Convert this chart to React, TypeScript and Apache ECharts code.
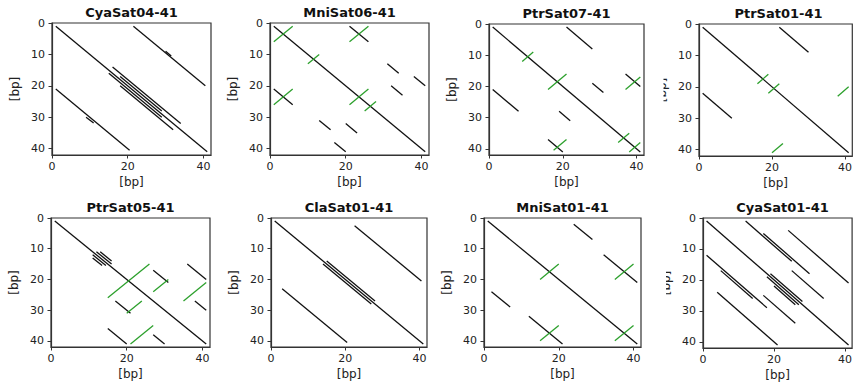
import React, { useEffect, useRef } from "react";
import * as echarts from "echarts";

// ---------- data ----------
const panelTitles = [
  "CyaSat04-41",
  "MniSat06-41",
  "PtrSat07-41",
  "PtrSat01-41",
  "PtrSat05-41",
  "ClaSat01-41",
  "MniSat01-41",
  "CyaSat01-41",
];
const xTicks = [0, 20, 40];
const yTicks = [0, 10, 20, 30, 40];
const axisTitle = "[bp]";
const axisMax = 42;

// segments: [x1, y1, x2, y2] in bp
const cyaSat04Direct = [
  [1, 1, 41, 41],
  [21.5, 1, 40.5, 20],
  [30, 9, 31.5, 10.5],
  [1, 21, 20.5, 40.5],
  [9, 30, 11, 31.8],
  [16, 14, 34, 32],
  [18, 17, 29, 28],
  [15, 16, 29, 30],
  [18, 20, 32, 34],
];
const cyaSat04Inverted: number[][] = [];

const mniSat06Direct = [
  [1, 1, 41, 41],
  [21, 1, 26, 6],
  [1, 21, 6, 26],
  [31, 13, 34, 16],
  [38, 17, 41, 20],
  [32, 20, 35, 23],
  [13, 31, 16, 34],
  [20, 32, 23, 35],
  [17, 38, 20, 41],
];
const mniSat06Inverted = [
  [1, 6, 6, 1],
  [21, 6, 26, 1],
  [10, 13, 13, 10],
  [1, 26, 6, 21],
  [21, 26, 26, 21],
  [25, 28, 28, 25],
];

const ptrSat07Direct = [
  [1, 1, 41, 41],
  [21, 1, 28, 8],
  [1, 21, 8, 28],
  [28, 19, 31, 22],
  [37, 16, 41, 20],
  [19, 28, 22, 31],
  [16, 37, 20, 41],
];
const ptrSat07Inverted = [
  [9, 12, 12, 9],
  [16, 21, 21, 16],
  [37, 21, 41, 17],
  [35, 38, 38, 35],
  [17.5, 40.5, 21, 37],
  [38, 41, 41, 38],
];

const ptrSat01Direct = [
  [1, 1, 41, 41],
  [22, 1, 30, 9],
  [1, 22, 9, 30],
];
const ptrSat01Inverted = [
  [16, 19, 19, 16],
  [19, 22, 22, 19],
  [38, 23, 41, 20],
  [20, 41, 23, 38],
];

const ptrSat05Direct = [
  [1, 1, 41, 41],
  [11, 12, 14.5, 15.5],
  [12, 11, 16, 15],
  [11, 13, 13.5, 15.5],
  [13, 11, 16, 14],
  [27, 17, 31, 21],
  [36, 15, 41, 20],
  [17, 27, 21, 31],
  [38, 27, 41, 30],
  [15, 36, 20, 41],
  [27, 38, 30, 41],
];
const ptrSat05Inverted = [
  [15, 26, 26, 15],
  [27, 24, 31, 20],
  [35, 27, 41, 21],
  [20, 31, 24, 27],
  [21, 41, 27, 35],
];

const claSat01Direct = [
  [1, 1, 41, 41],
  [22.5, 2.5, 40.5, 20.5],
  [3, 23, 20.5, 40.5],
  [15, 14, 28, 27],
  [14, 15, 27, 28],
];
const claSat01Inverted: number[][] = [];

const mniSat01Direct = [
  [1, 1, 41, 41],
  [24, 2, 29, 7],
  [32, 12, 41, 21],
  [2, 24, 7, 29],
  [12, 32, 21, 41],
];
const mniSat01Inverted = [
  [15, 20, 20, 15],
  [35, 20, 40, 15],
  [15, 40, 20, 35],
  [35, 40, 40, 35],
];

const cyaSat01Direct = [
  [1, 1, 41, 41],
  [12, 1, 25, 14],
  [17, 5, 30, 18],
  [24, 4, 41, 21],
  [25, 17, 34, 26],
  [1, 12, 18, 29],
  [5, 17, 14, 26],
  [4, 24, 21, 41],
  [17, 25, 26, 34],
  [19, 18, 28, 27],
  [18, 19, 27, 28],
  [20, 22, 26, 28],
];
const cyaSat01Inverted: number[][] = [];

const directRepeats = [
  cyaSat04Direct,
  mniSat06Direct,
  ptrSat07Direct,
  ptrSat01Direct,
  ptrSat05Direct,
  claSat01Direct,
  mniSat01Direct,
  cyaSat01Direct,
];
const invertedRepeats = [
  cyaSat04Inverted,
  mniSat06Inverted,
  ptrSat07Inverted,
  ptrSat01Inverted,
  ptrSat05Inverted,
  claSat01Inverted,
  mniSat01Inverted,
  cyaSat01Inverted,
];

// ---------- layout ----------
const boxes = [
  { left: 52, top: 23, width: 159, height: 132 },
  { left: 270, top: 23, width: 159, height: 132 },
  { left: 489, top: 24, width: 155, height: 131 },
  { left: 699, top: 24, width: 159, height: 132 },
  { left: 51, top: 218, width: 159, height: 129 },
  { left: 271, top: 218, width: 156, height: 129 },
  { left: 484, top: 218, width: 157, height: 129 },
  { left: 703, top: 218, width: 159, height: 130 },
];

const FONT = "DejaVu Sans";
const SPINE = "#333333";
const TEXT = "#222222";
const BLACK = "#111111";
const GREEN = "#2ca02c";

function toLines(segs: number[][]) {
  return segs.map((s) => ({ coords: [[s[0], s[1]], [s[2], s[3]]] }));
}

export default function App() {
  const ref = useRef<HTMLDivElement>(null);

  useEffect(() => {
    if (!ref.current) return;
    const chart = echarts.init(ref.current, undefined, { renderer: "svg" });

    const grids = boxes.map((b) => ({
      left: b.left,
      top: b.top,
      width: b.width,
      height: b.height,
      show: true,
      borderColor: SPINE,
      borderWidth: 1.2,
      backgroundColor: "transparent",
      containLabel: false,
    }));

    const xAxes = boxes.map((_, i) => ({
      gridIndex: i,
      type: "value",
      min: 0,
      max: axisMax,
      position: "bottom",
      axisLine: { show: true, onZero: false, lineStyle: { color: SPINE, width: 1.2 } },
      axisTick: {
        show: true,
        inside: false,
        length: 3.5,
        customValues: xTicks,
        lineStyle: { color: SPINE, width: 1 },
      },
      axisLabel: {
        customValues: xTicks,
        color: TEXT,
        fontSize: 11,
        fontFamily: FONT,
        margin: 6,
      },
      splitLine: { show: false },
      name: axisTitle,
      nameLocation: "middle",
      nameGap: 21,
      nameTextStyle: { fontSize: 12, color: TEXT, fontFamily: FONT },
    }));

    const yAxes = boxes.map((_, i) => ({
      gridIndex: i,
      type: "value",
      min: 0,
      max: axisMax,
      inverse: true,
      position: "left",
      axisLine: { show: true, onZero: false, lineStyle: { color: SPINE, width: 1.2 } },
      axisTick: {
        show: true,
        inside: false,
        length: 3.5,
        customValues: yTicks,
        lineStyle: { color: SPINE, width: 1 },
      },
      axisLabel: {
        customValues: yTicks,
        color: TEXT,
        fontSize: 11,
        fontFamily: FONT,
        margin: 7,
      },
      splitLine: { show: false },
      name: axisTitle,
      nameLocation: "middle",
      nameGap: 31,
      nameTextStyle: { fontSize: 12, color: TEXT, fontFamily: FONT },
    }));

    const series: any[] = [];
    boxes.forEach((_, i) => {
      series.push({
        type: "lines",
        coordinateSystem: "cartesian2d",
        xAxisIndex: i,
        yAxisIndex: i,
        silent: true,
        lineStyle: { color: BLACK, width: 1.3, opacity: 1 },
        data: toLines(directRepeats[i]),
        z: 3,
      });
      if (invertedRepeats[i].length) {
        series.push({
          type: "lines",
          coordinateSystem: "cartesian2d",
          xAxisIndex: i,
          yAxisIndex: i,
          silent: true,
          lineStyle: { color: GREEN, width: 1.3, opacity: 1 },
          data: toLines(invertedRepeats[i]),
          z: 4,
        });
      }
    });

    const titles = boxes.map((b, i) => ({
      type: "text",
      x: b.left + b.width / 2,
      y: b.top - 10.5,
      z: 50,
      style: {
        text: panelTitles[i],
        font: `bold 13px "${FONT}"`,
        fill: "#111",
        textAlign: "center",
        textVerticalAlign: "middle",
        align: "center",
        verticalAlign: "middle",
      },
    }));

    // neighbouring panel images overlap the y-axis titles of the right-most panels
    const covers = [
      { type: "rect", shape: { x: 647, y: 60, width: 16.5, height: 60 }, style: { fill: "#ffffff" }, z: 100 },
      { type: "rect", shape: { x: 645, y: 255, width: 21, height: 60 }, style: { fill: "#ffffff" }, z: 100 },
    ];

    chart.setOption({
      animation: false,
      backgroundColor: "#ffffff",
      grid: grids,
      xAxis: xAxes,
      yAxis: yAxes,
      series,
      graphic: { elements: [...titles, ...covers] },
    } as any);

    return () => chart.dispose();
  }, []);

  return (
    <div
      ref={ref}
      style={{ position: "absolute", left: 0, top: 0, width: 855, height: 386 }}
    />
  );
}
